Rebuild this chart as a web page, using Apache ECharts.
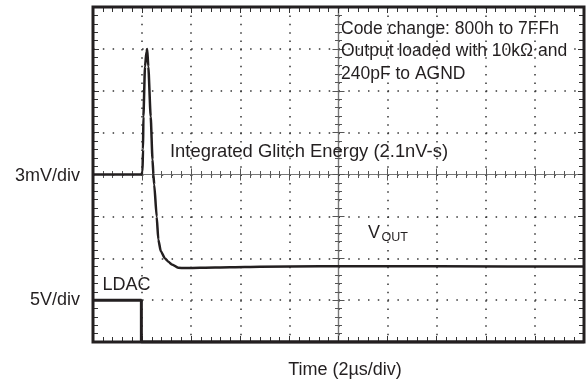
<!DOCTYPE html>
<html>
<head>
<meta charset="utf-8">
<script src="https://cdn.jsdelivr.net/npm/echarts@6/dist/echarts.min.js"></script>
<style>
html,body{margin:0;padding:0;background:#fff;}
#chart{width:588px;height:381px;}
</style>
</head>
<body>
<div id="chart"></div>
<script>
// Time relative to screen centre, in microseconds (2 us/div, 10 divisions)
var voutTime = [-10, -8.024, -7.984, -7.963, -7.947, -7.882, -7.821, -7.792, -7.747, -7.65, -7.576, -7.54, -7.507, -7.405, -7.34, -7.24, -7.067, -6.93, -6.79, -6.53, -6.25, -5.64, -4.42, -3.2, -0.75, 4, 10];
// VOUT in mV relative to centre line (3 mV/div)
var voutMv   = [0, 0, 0.21, 1.79, 4.15, 7.73, 8.81, 8.99, 7.73, 4.15, 1.07, 0, -0.72, -3.03, -4.65, -5.49, -6.01, -6.25, -6.44, -6.68, -6.70, -6.68, -6.64, -6.60, -6.57, -6.58, -6.59];
// LDAC in volts (5 V/div, 0 V at bottom of screen)
var ldacTime = [-10, -8.03, -8.03, 10];
var ldacV    = [5, 5, 0, 0];

var timeRange = [-10, 10];   // 2 us/div
var voutRange = [-12, 12];   // 3 mV/div
var ldacRange = [0, 40];     // 5 V/div

var axisLabels = { vout: '3mV/div', ldac: '5V/div', time: 'Time (2\u00b5s/div)' };
var notes = ['Code change: 800h to 7FFh', 'Output loaded with 10k\u03a9 and', '240pF to AGND'];
var glitchNote = 'Integrated Glitch Energy (2.1nV-s)';

function zip(a, b){ return a.map(function(v,i){ return [v, b[i]]; }); }

var INK = '#231f20';
var FONT = '"Liberation Sans", Arial, Helvetica, sans-serif';
var dotH = [1.5, 9.82 - 1.5];
var dotV = [1.5, 8.375 - 1.5];

function edgeX(pos){
  return { type:'value', min:timeRange[0], max:timeRange[1], interval:2, position:pos,
    axisLine:{show:false, onZero:false}, axisLabel:{show:false},
    axisTick:{show:true, inside:true, length:6, lineStyle:{color:'#333', width:1}},
    minorTick:{show:true, splitNumber:5, length:5, lineStyle:{color:'#333', width:1}},
    splitLine:{show:false} };
}
function edgeY(pos){
  return { type:'value', min:voutRange[0], max:voutRange[1], interval:3, position:pos,
    axisLine:{show:false, onZero:false}, axisLabel:{show:false},
    axisTick:{show:true, inside:true, length:6, lineStyle:{color:'#333', width:1}},
    minorTick:{show:true, splitNumber:5, length:5, lineStyle:{color:'#333', width:1}},
    splitLine:{show:false} };
}
function centerX(inside){
  return { type:'value', min:timeRange[0], max:timeRange[1], interval:2, position:'bottom',
    axisLine:{show:true, onZero:true, onZeroAxisIndex:0, lineStyle:{color:'#777', width:1.2}},
    axisLabel:{show:false},
    axisTick:{show:true, inside:inside, length:6, lineStyle:{color:'#555', width:1}},
    minorTick:{show:true, splitNumber:5, length:3.5, lineStyle:{color:'#555', width:1}},
    splitLine:{show:false} };
}
function centerY(inside){
  return { type:'value', min:voutRange[0], max:voutRange[1], interval:3, position:'left',
    axisLine:{show:true, onZero:true, onZeroAxisIndex:0, lineStyle:{color:'#777', width:1.2}},
    axisLabel:{show:false},
    axisTick:{show:true, inside:inside, length:6, lineStyle:{color:'#555', width:1}},
    minorTick:{show:true, splitNumber:5, length:3.5, lineStyle:{color:'#555', width:1}},
    splitLine:{show:false} };
}

var x0 = edgeX('bottom');
x0.splitLine = {show:true, lineStyle:{color:'#333', width:1.5, type:dotV}};
var y0 = edgeY('left');
y0.splitLine = {show:true, lineStyle:{color:'#333', width:1.5, type:dotH}};

function txt(x, y, s, align, size){
  return { type:'text', x:x, y:y, silent:true, z:50,
    style:{ text:s, fill:INK, font:(size||18)+'px '+FONT, textAlign:align||'left', textVerticalAlign:'middle' } };
}

var chart = echarts.init(document.getElementById('chart'), null, {renderer:'canvas'});
chart.setOption({
  animation:false,
  backgroundColor:'#fff',
  grid:{left:93, top:7, width:491, height:335, show:true, borderColor:INK, borderWidth:3, backgroundColor:'transparent', z:10},
  xAxis:[x0, edgeX('top'), centerX(true), centerX(false)],
  yAxis:[y0, edgeY('right'), centerY(true), centerY(false),
    { type:'value', min:ldacRange[0], max:ldacRange[1], show:false, axisLine:{onZero:false} }],
  series:[
    { type:'line', name:'VOUT', xAxisIndex:0, yAxisIndex:0, data:zip(voutTime, voutMv),
      showSymbol:false, symbol:'none', smooth:0.2, smoothMonotone:'x', z:5,
      lineStyle:{color:INK, width:2.5, join:'round'} },
    { type:'line', name:'LDAC', xAxisIndex:0, yAxisIndex:4, data:zip(ldacTime, ldacV),
      showSymbol:false, symbol:'none', z:5,
      lineStyle:{color:INK, width:3} }
  ],
  graphic:[
    txt(80, 176, axisLabels.vout, 'right'),
    txt(80, 300, axisLabels.ldac, 'right'),
    txt(345, 370, axisLabels.time, 'center'),
    txt(102.5, 285, 'LDAC', 'left'),
    txt(170, 152, glitchNote, 'left', 18.4),
    txt(341, 29, notes[0], 'left', 17.5),
    txt(341, 51.5, notes[1], 'left', 17.5),
    txt(341, 74, notes[2], 'left', 17.5),
    txt(368, 233, 'V', 'left'),
    txt(381.5, 238, 'OUT', 'left', 12.5)
  ]
});
</script>
</body>
</html>
